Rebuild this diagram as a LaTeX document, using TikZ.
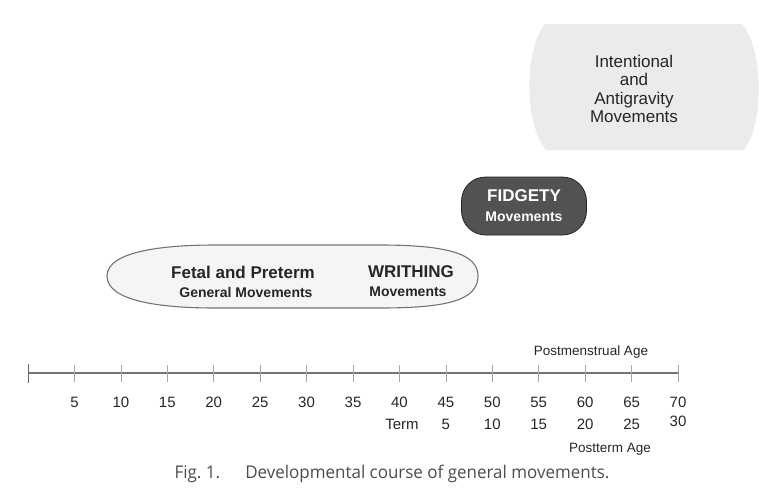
\documentclass[tikz,border=0pt]{standalone}
\usepackage{fontspec}
\setmainfont{Liberation Sans}
\newfontfamily\capfont{Open Sans}
\begin{document}
\begin{tikzpicture}[x=1pt,y=-1pt,
  axisline/.style={draw=black!55,line width=1.6pt},
  tickmark/.style={draw=black!35,line width=0.6pt},
  numlabel/.style={font=\fontsize{15}{15}\selectfont,text=black!85,inner sep=0pt,anchor=center},
  agelabel/.style={font=\fontsize{13.5}{14}\selectfont,text=black!85,inner sep=0pt},
  bigtext/.style={font=\bfseries\fontsize{17}{18}\selectfont,text=black!85,inner sep=0pt},
  smalltext/.style={font=\bfseries\fontsize{14}{15}\selectfont,text=black!85,inner sep=0pt},
  fidgetybox/.style={fill=black!68,draw=black!85,line width=0.8pt,rounded corners=24pt,
     minimum width=125pt,minimum height=58pt,align=center,text=white,inner sep=0pt,
     font=\bfseries\fontsize{17}{20}\selectfont},
  intenttext/.style={font=\fontsize{17}{18.5}\selectfont,text=black!85,align=center,inner sep=0pt},
  earlyshape/.style={fill=black!4,draw=black!55,line width=1.1pt},
  intentshape/.style={fill=black!8}
]
\useasboundingbox (0,0) rectangle (768,488);

% Intentional and antigravity region
\fill[intentshape] (545,24) -- (742,24) .. controls (764,50) and (764,124) .. (744,150)
   -- (546,150) .. controls (524,124) and (524,50) .. (545,24) -- cycle;
\node[intenttext] (intent) at (634,89) {Intentional\\and\\Antigravity\\Movements};

% Fidgety
\node[fidgetybox] (fid) at (524,206)
  {FIDGETY\\{\fontsize{14}{15}\selectfont Movements}};

% Fetal / preterm / writhing
\draw[earlyshape] (107,276) .. controls (107,252) and (160,245) .. (215,245) -- (380,245)
   .. controls (448,245) and (478,254) .. (478,276) .. controls (478,300) and (448,308) .. (380,308)
   -- (215,308) .. controls (160,308) and (107,301) .. (107,276) -- cycle;
\node[bigtext] (fetal) at (243,272) {Fetal and Preterm};
\node[smalltext] (gm) at (246,292) {General Movements};
\node[bigtext] (wr) at (411,272) {WRITHING};
\node[smalltext] (wrm) at (408,292) {Movements};

% Axis
\coordinate (a0) at (28,373);
\coordinate (a70) at (678,373);
\draw[axisline] (a0) -- (a70);
\draw[draw=black!60,line width=0.8pt] (28,364) -- (28,383);
\foreach \i in {1,...,14}{
  \pgfmathsetmacro{\xx}{28+\i*46.43}
  \draw[tickmark] (\xx,365) -- (\xx,382);
  \pgfmathtruncatemacro{\v}{5*\i}
  \node[numlabel] (n\i) at (\xx,402) {\v};
}
\node[numlabel] (term) at (402,424) {Term};
\foreach \i in {9,...,13}{
  \pgfmathsetmacro{\xx}{28+\i*46.43}
  \pgfmathtruncatemacro{\v}{5*(\i-8)}
  \node[numlabel] (p\i) at (\xx,424) {\v};
}
\node[numlabel] (p14) at (678,421) {30};
\node[agelabel] (pma) at (591,352) {Postmenstrual Age};
\node[agelabel] (pta) at (610,449) {Postterm Age};

% Caption
\node[inner sep=0pt,text=black!70] (cap) at (392,474)
  {\scalebox{0.97}[1]{\capfont\fontsize{17.5}{18}\selectfont Fig.\ 1.\hspace{26pt}Developmental course of general movements.}};
\end{tikzpicture}
\end{document}
